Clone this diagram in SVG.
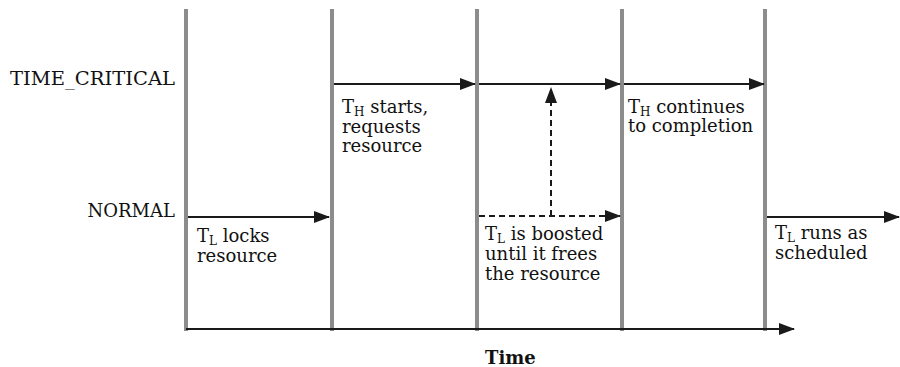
<svg xmlns="http://www.w3.org/2000/svg" width="900" height="367" viewBox="0 0 900 367">
<style>
  .bg { fill: #ffffff; }
  .bar { stroke: #8c8c8c; stroke-width: 4; fill: none; }
  .line { stroke: #1a1a1a; stroke-width: 2; fill: none; }
  .dash { stroke: #1a1a1a; stroke-width: 2; fill: none; stroke-dasharray: 6 4; }
  .lbl { font-family: "DejaVu Serif", "Liberation Serif", serif; font-size: 18px; fill: #111; }
  .sub { font-size: 12px; }
  .bold { font-weight: bold; }
</style>
<defs>
  <marker id="ah" markerUnits="userSpaceOnUse" markerWidth="16" markerHeight="12" viewBox="0 0 16 12" refX="15" refY="6" orient="auto">
    <path d="M0,0 L16,6 L0,12 Z" fill="#1a1a1a"/>
  </marker>
</defs>
<rect class="bg" x="0" y="0" width="900" height="367"/>

<g id="timeline-bars">
  <line class="bar" x1="186" y1="9" x2="186" y2="331"/>
  <line class="bar" x1="332" y1="9" x2="332" y2="331"/>
  <line class="bar" x1="477" y1="9" x2="477" y2="331"/>
  <line class="bar" x1="622" y1="9" x2="622" y2="331"/>
  <line class="bar" x1="765" y1="9" x2="765" y2="331"/>
</g>

<g id="connectors">
  <line class="line" x1="188" y1="217" x2="329" y2="217" marker-end="url(#ah)"/>
  <line class="line" x1="334" y1="84" x2="475" y2="84" marker-end="url(#ah)"/>
  <line class="line" x1="479" y1="84" x2="620" y2="84" marker-end="url(#ah)"/>
  <line class="line" x1="624" y1="84" x2="764" y2="84" marker-end="url(#ah)"/>
  <line class="dash" x1="479" y1="216" x2="620" y2="216" marker-end="url(#ah)"/>
  <line class="dash" x1="551" y1="216" x2="551" y2="88" marker-end="url(#ah)"/>
  <line class="line" x1="767" y1="217" x2="899" y2="217" marker-end="url(#ah)"/>
  <line class="line" x1="186" y1="329" x2="794" y2="329" marker-end="url(#ah)"/>
</g>

<g id="level-labels">
  <text class="lbl" x="175" y="85" text-anchor="end" textLength="165" lengthAdjust="spacingAndGlyphs">TIME_CRITICAL</text>
  <text class="lbl" x="175" y="217" text-anchor="end">NORMAL</text>
</g>

<g id="label-tl-locks">
  <text class="lbl" x="197" y="242">T<tspan class="sub" dy="3">L</tspan><tspan dy="-3"> locks</tspan></text>
  <text class="lbl" x="197" y="262">resource</text>
</g>

<g id="label-th-starts">
  <text class="lbl" x="342" y="113">T<tspan class="sub" dy="3">H</tspan><tspan dy="-3"> starts,</tspan></text>
  <text class="lbl" x="342" y="133">requests</text>
  <text class="lbl" x="342" y="152">resource</text>
</g>

<g id="label-tl-boosted">
  <text class="lbl" x="485" y="240">T<tspan class="sub" dy="3">L</tspan><tspan dy="-3"> is boosted</tspan></text>
  <text class="lbl" x="485" y="260">until it frees</text>
  <text class="lbl" x="485" y="280">the resource</text>
</g>

<g id="label-th-continues">
  <text class="lbl" x="628" y="113">T<tspan class="sub" dy="3">H</tspan><tspan dy="-3"> continues</tspan></text>
  <text class="lbl" x="628" y="132">to completion</text>
</g>

<g id="label-tl-runs">
  <text class="lbl" x="775" y="239">T<tspan class="sub" dy="3">L</tspan><tspan dy="-3"> runs as</tspan></text>
  <text class="lbl" x="775" y="259">scheduled</text>
</g>

<g id="axis-label">
  <text class="lbl bold" x="485" y="364">Time</text>
</g>
</svg>
